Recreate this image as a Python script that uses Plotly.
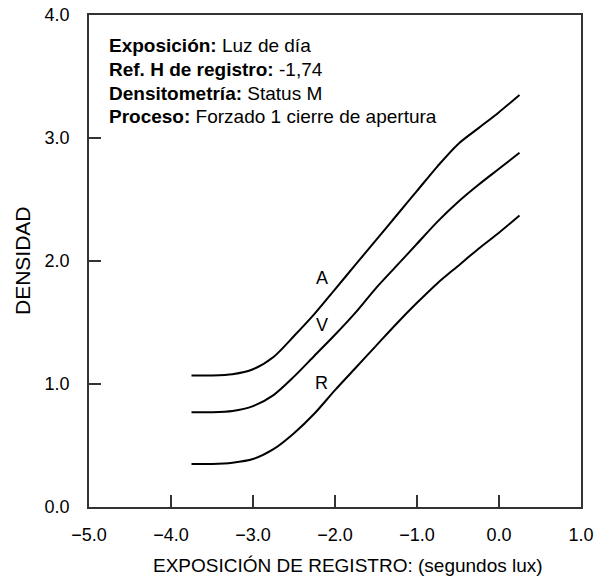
import plotly.graph_objects as go

# Data
log_h = [-3.75, -3.5, -3.25, -3.0, -2.75, -2.5, -2.25, -2.0, -1.75, -1.5,
         -1.25, -1.0, -0.75, -0.5, -0.25, 0.0, 0.25]
dens_A = [1.07, 1.07, 1.08, 1.12, 1.22, 1.39, 1.57, 1.77, 1.97, 2.17,
          2.37, 2.57, 2.77, 2.95, 3.08, 3.21, 3.35]
dens_V = [0.77, 0.77, 0.78, 0.82, 0.91, 1.06, 1.23, 1.40, 1.58, 1.78,
          1.96, 2.14, 2.32, 2.48, 2.62, 2.75, 2.88]
dens_R = [0.35, 0.35, 0.36, 0.39, 0.47, 0.60, 0.76, 0.95, 1.13, 1.31,
          1.49, 1.66, 1.82, 1.96, 2.10, 2.23, 2.37]

curve_labels = ["A", "V", "R"]
label_x = [-2.16, -2.16, -2.16]
label_y = [1.86, 1.48, 1.01]

x_ticks = [-5, -4, -3, -2, -1, 0, 1]
y_ticks = [0, 1, 2, 3, 4]

info_keys = ["Exposición:", "Ref. H de registro:", "Densitometría:", "Proceso:"]
info_vals = ["Luz de día", "-1,74", "Status M", "Forzado 1 cierre de apertura"]

x_title = "EXPOSICIÓN DE REGISTRO: (segundos lux)"
y_title = "DENSIDAD"

FONT = "Liberation Sans, Arial, Helvetica, sans-serif"

W, H = 610, 581
# plot area in page pixels (reference): left 89, right 581, top 15, bottom 507
PL, PR, PT, PB = 89, 581, 15, 507
PW, PH = PR - PL, PB - PT


def px(xp):
    return (xp - PL) / PW


def py(yp):
    return (PB - yp) / PH


fig = go.Figure()
for ys in (dens_A, dens_V, dens_R):
    fig.add_trace(go.Scatter(x=log_h, y=ys, mode="lines",
                             line=dict(color="black", width=2, shape="spline", smoothing=0.8),
                             showlegend=False, hoverinfo="skip"))

for t, lx, ly in zip(curve_labels, label_x, label_y):
    fig.add_annotation(x=lx, y=ly, text=t, showarrow=False,
                       font=dict(family=FONT, size=18, color="black"))

line_py = [45, 69, 93, 116]
for k, v, yy in zip(info_keys, info_vals, line_py):
    fig.add_annotation(xref="paper", yref="paper",
                       x=px(107), y=py(yy),
                       xanchor="left", yanchor="middle", align="left",
                       text=f"<b>{k}</b> {v}", showarrow=False,
                       font=dict(family=FONT, size=19, color="black"))

# axis titles
fig.add_annotation(xref="paper", yref="paper", x=px(348), y=py(565),
                   xanchor="center", yanchor="middle", text=x_title, showarrow=False,
                   font=dict(family=FONT, size=19, color="black"))
fig.add_annotation(xref="paper", yref="paper", x=px(22), y=py(261),
                   xanchor="center", yanchor="middle", text=y_title, showarrow=False,
                   textangle=-90, font=dict(family=FONT, size=21, color="black"))

axis_common = dict(showline=True, linecolor="#333", linewidth=1.5, mirror=True,
                   ticks="inside", ticklen=12, tickcolor="#333", tickwidth=1.5,
                   showgrid=False, zeroline=False, ticklabeloverflow="allow",
                   tickfont=dict(family=FONT, size=18, color="black"),
                   tickformat=".1f")

fig.update_xaxes(range=[-5, 1], tickvals=x_ticks, ticklabelstandoff=11, **axis_common)
fig.update_yaxes(range=[0, 4], tickvals=y_ticks, ticklabelstandoff=14, **axis_common)

fig.update_layout(width=W, height=H,
                  margin=dict(l=PL, r=W - PR, t=PT, b=H - PB, autoexpand=False),
                  paper_bgcolor="white", plot_bgcolor="white",
                  font=dict(family=FONT, color="black"))

# remove the default 8px body margin so the figure sits at the page origin
fig.write_html("out.html", config={"displayModeBar": False},
               post_script="document.body.style.margin='0px';")
